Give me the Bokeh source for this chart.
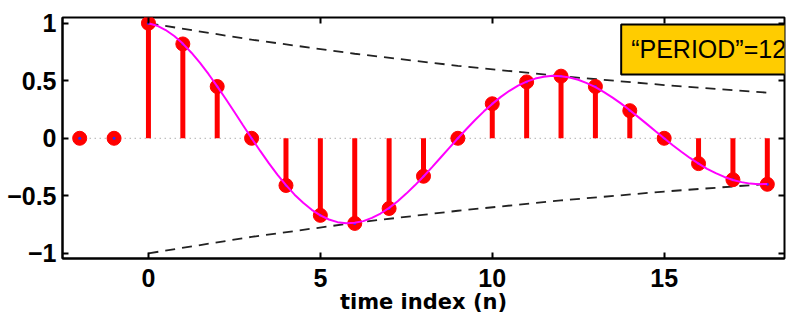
from bokeh.plotting import figure
from bokeh.models import LinearAxis, Label, FixedTicker, ColumnDataSource
from bokeh.embed import file_html
from bokeh.resources import INLINE

# --- data ---
n = [-2, -1, 0, 1, 2, 3, 4, 5, 6, 7, 8, 9, 10, 11, 12, 13, 14, 15, 16, 17, 18]
xn = [0, 0, 1.0, 0.82, 0.45, 0.0, -0.41, -0.67, -0.74, -0.61, -0.33, 0.0,
      0.30, 0.49, 0.54, 0.45, 0.24, 0.0, -0.22, -0.36, -0.40]

curve_t = [0, 0.25, 0.5, 0.75, 1, 1.25, 1.5, 1.75, 2, 2.25, 2.5, 2.75, 3, 3.25, 3.5, 3.75,
           4, 4.25, 4.5, 4.75, 5, 5.25, 5.5, 5.75, 6, 6.25, 6.5, 6.75, 7, 7.25, 7.5, 7.75,
           8, 8.25, 8.5, 8.75, 9, 9.25, 9.5, 9.75, 10, 10.25, 10.5, 10.75, 11, 11.25, 11.5, 11.75,
           12, 12.25, 12.5, 12.75, 13, 13.25, 13.5, 13.75, 14, 14.25, 14.5, 14.75, 15, 15.25, 15.5, 15.75,
           16, 16.25, 16.5, 16.75, 17, 17.25, 17.5, 17.75, 18]
curve_v = [1.000, 0.979, 0.941, 0.889, 0.823, 0.744, 0.655, 0.557, 0.451, 0.341, 0.228, 0.113,
           0.0, -0.110, -0.216, -0.316, -0.407, -0.490, -0.561, -0.622, -0.670, -0.706, -0.729, -0.738,
           -0.735, -0.720, -0.692, -0.654, -0.605, -0.547, -0.481, -0.409, -0.332, -0.251, -0.167, -0.083,
           0.0, 0.081, 0.159, 0.232, 0.299, 0.360, 0.413, 0.457, 0.493, 0.519, 0.535, 0.543,
           0.540, 0.529, 0.509, 0.480, 0.445, 0.402, 0.354, 0.301, 0.244, 0.184, 0.123, 0.061,
           0.0, -0.060, -0.117, -0.171, -0.220, -0.265, -0.303, -0.336, -0.362, -0.381, -0.394, -0.399, -0.397]

env_n = [0, 3, 6, 9, 12, 15, 18]
env_up = [1.0, 0.857, 0.735, 0.630, 0.540, 0.463, 0.397]
env_lo = [-1.0, -0.857, -0.735, -0.630, -0.540, -0.463, -0.397]

zero_n = [-2, 18]
zero_v = [0, 0]

x_ticks = [0, 5, 10, 15]
y_ticks = [-1, -0.5, 0, 0.5, 1]
box_text = "\u201cPERIOD\u201d=12"
x_label = "time index (n)"

p = figure(frame_width=722, frame_height=241, output_backend="svg", toolbar_location=None,
           x_range=(-2.5, 18.5), y_range=(-1.045, 1.05),
           min_border_left=62, min_border_right=12, min_border_top=17, min_border_bottom=56,
           background_fill_color="white", border_fill_color="white")
p.grid.visible = False
p.outline_line_color = "black"
p.outline_line_width = 2

# zero line dotted
p.line(zero_n, zero_v, line_color="#888888", line_width=1, line_dash="1 4")
# envelope
p.line(env_n, env_up, line_color="#222222", line_width=1.8, line_dash="10 7")
p.line(env_n, env_lo, line_color="#222222", line_width=1.8, line_dash="10 7")
# stems
src = ColumnDataSource(dict(n=n, x=xn, z=[0] * len(n)))
p.segment(x0="n", y0="z", x1="n", y1="x", source=src, line_color="#ff0000", line_width=5)
# markers
p.scatter(x="n", y="x", source=src, size=14, fill_color="#ff0000", line_color="#ff0000")
p.scatter(x="n", y="x", source=src, size=3, fill_color="#2030ff", line_color=None)
# magenta curve
p.line(curve_t, curve_v, line_color="#ff00ff", line_width=2)

ax = p.xaxis[0]
ay = p.yaxis[0]
ax.ticker = FixedTicker(ticks=x_ticks)
ay.ticker = FixedTicker(ticks=y_ticks)
p.xaxis.axis_line_width = 2
p.yaxis.axis_line_width = 2
p.xaxis.major_tick_in = 6
p.xaxis.major_tick_out = 0
p.yaxis.major_tick_in = 6
p.yaxis.major_tick_out = 0
p.xaxis.minor_tick_in = 0
p.xaxis.minor_tick_out = 0
p.yaxis.minor_tick_in = 0
p.yaxis.minor_tick_out = 0
p.xaxis.major_tick_line_width = 2
p.yaxis.major_tick_line_width = 2
p.xaxis.major_label_text_font = "Liberation Sans"
p.yaxis.major_label_text_font = "Liberation Sans"
p.xaxis.major_label_text_font_style = "bold"
p.yaxis.major_label_text_font_style = "bold"
p.xaxis.major_label_text_font_size = "25px"
p.yaxis.major_label_text_font_size = "25px"
p.xaxis.major_label_text_color = "black"
p.yaxis.major_label_text_color = "black"
ax.major_label_standoff = 10
ay.major_label_standoff = 6
ax.axis_label = x_label
ax.axis_label_text_font = "DejaVu Sans"
ax.axis_label_text_font_style = "bold"
ax.axis_label_text_font_size = "21px"
ax.axis_label_text_color = "black"
ax.axis_label_standoff = 0

# mirrored tick axes
rt = LinearAxis(ticker=FixedTicker(ticks=y_ticks), major_label_text_font_size="0px",
                major_tick_in=6, major_tick_out=0, minor_tick_in=0, minor_tick_out=0,
                axis_line_color=None, major_tick_line_width=2, major_label_standoff=0)
p.add_layout(rt, "right")
tp = LinearAxis(ticker=FixedTicker(ticks=x_ticks), major_label_text_font_size="0px",
                major_tick_in=6, major_tick_out=0, minor_tick_in=0, minor_tick_out=0,
                axis_line_color=None, major_tick_line_width=2, major_label_standoff=0)
p.add_layout(tp, "above")

lab = Label(x=13.75, y=0.99, text=box_text, text_font="Liberation Sans",
            text_font_size="25px", text_color="black",
            text_align="left", text_baseline="top",
            background_fill_color="#ffcc00", border_line_color="black",
            border_line_width=2, padding=(10, 11))
p.add_layout(lab)

open("out.html", "w").write(file_html(p, INLINE))
